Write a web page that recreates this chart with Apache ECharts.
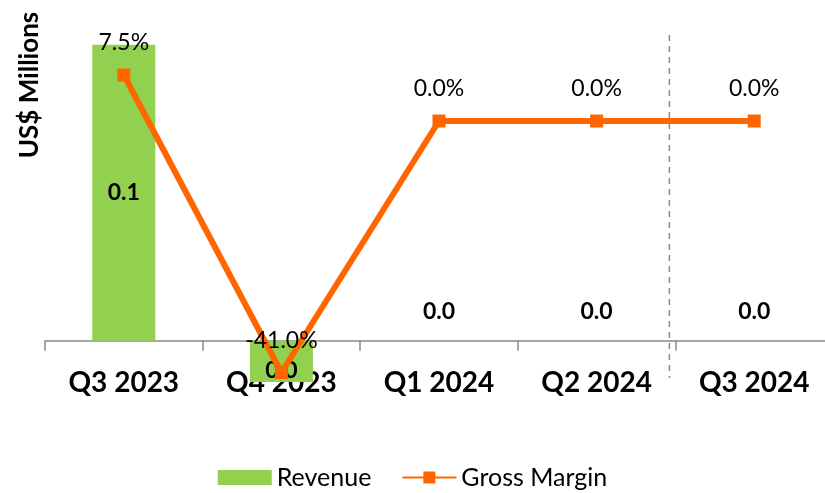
<!DOCTYPE html>
<html>
<head>
<meta charset="utf-8">
<script src="https://cdn.jsdelivr.net/npm/echarts@6/dist/echarts.min.js"></script>
<style>
  html, body { margin: 0; padding: 0; background: #fff; }
  #chart { width: 825px; height: 493px; }
</style>
</head>
<body>
<div id="chart"></div>
<script>
// chart data
var quarters = ['Q3 2023', 'Q4 2023', 'Q1 2024', 'Q2 2024', 'Q3 2024'];
var revenue = [0.1, -0.014, 0, 0, 0];          // US$ Millions
var grossMargin = [7.5, -41.0, 0.0, 0.0, 0.0];  // %

var FONT = 'Lato, "Open Sans", sans-serif';
var GREEN = '#92D050';
var ORANGE = '#FF6600';

var revMin = -0.015, revMax = 0.105;
var gridTop = 30, gridHeight = 355;
// distance from grid bottom up to the zero line of the revenue axis
var zeroOffset = gridHeight * (0 - revMin) / (revMax - revMin);

var chart = echarts.init(document.getElementById('chart'));

// zero bars get their label lifted above the axis, negative one sits low
var revenueData = revenue.map(function (v) {
  if (v === 0) {
    return { value: v, label: { position: 'top', distance: 18 } };
  }
  if (v < 0) {
    return { value: v, label: { position: 'insideBottom', distance: 0 } };
  }
  return v;
});

var option = {
  animation: false,
  grid: {
    left: 45, top: gridTop, width: 788, height: gridHeight,
    containLabel: false, outerBoundsMode: 'none'
  },
  xAxis: {
    type: 'category',
    data: quarters,
    offset: -zeroOffset,
    axisLine: { onZero: false, lineStyle: { color: '#898989', width: 1.5 } },
    axisTick: { show: true, length: 10, lineStyle: { color: '#898989', width: 1.5 } },
    axisLabel: {
      margin: 28, color: '#000', fontFamily: FONT,
      fontWeight: 'bold', fontSize: 28, interval: 0
    },
    splitLine: { show: false }
  },
  yAxis: [
    { type: 'value', min: revMin, max: revMax, show: false, splitLine: { show: false } },
    { type: 'value', min: -43.04, max: 14.84, show: false, splitLine: { show: false } }
  ],
  legend: {
    top: 460, left: 'center', itemGap: 30,
    itemWidth: 54, itemHeight: 15,
    textStyle: { color: '#000', fontFamily: FONT, fontSize: 25 },
    data: [
      { name: 'Revenue', icon: 'rect' },
      { name: 'Gross Margin' }
    ]
  },
  series: [
    {
      name: 'Revenue',
      type: 'bar',
      data: revenueData,
      barWidth: '40%',
      itemStyle: { color: GREEN },
      label: {
        show: true, position: 'inside', color: '#000',
        fontFamily: FONT, fontWeight: 'bold', fontSize: 23,
        formatter: function (p) { return Math.abs(p.value).toFixed(1); }
      }
    },
    {
      name: 'Gross Margin',
      type: 'line',
      yAxisIndex: 1,
      data: grossMargin,
      symbol: 'rect',
      symbolSize: 13,
      lineStyle: { color: ORANGE, width: 6 },
      itemStyle: { color: ORANGE },
      label: {
        show: true, position: 'top', distance: 14, color: '#000',
        fontFamily: FONT, fontSize: 23,
        formatter: function (p) { return p.value.toFixed(1) + '%'; }
      },
      z: 5
    }
  ],
  graphic: [
    {
      type: 'text',
      x: 30, y: 85, rotation: Math.PI / 2,
      style: {
        text: 'US$ Millions', fill: '#000', font: 'bold 26px ' + FONT,
        textAlign: 'center', textVerticalAlign: 'middle'
      }
    }
  ]
};
chart.setOption(option);

// dashed separator just left of the last quarter boundary
var p3 = chart.convertToPixel({ xAxisIndex: 0 }, quarters[3]);
var p4 = chart.convertToPixel({ xAxisIndex: 0 }, quarters[4]);
var sepX = (p3 + p4) / 2 - 6;
chart.setOption({
  graphic: [
    option.graphic[0],
    {
      type: 'line',
      shape: { x1: sepX, y1: 35, x2: sepX, y2: 378 },
      style: { stroke: '#898989', lineWidth: 1.5, lineDash: [6, 5] },
      z: 1
    }
  ]
});
</script>
</body>
</html>
